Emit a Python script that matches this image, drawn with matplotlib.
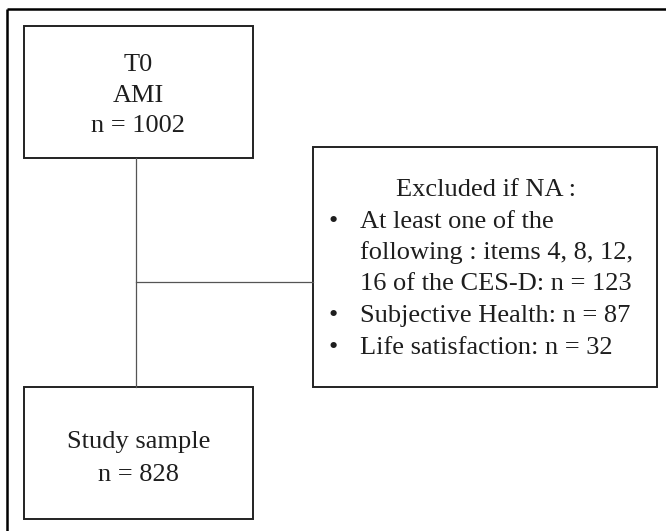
import matplotlib
matplotlib.use('Agg')
import matplotlib.pyplot as plt
from matplotlib.patches import Rectangle

# texts of the flow chart
top_lines = ["T0", "AMI", "n = 1002"]
bottom_lines = ["Study sample", "n = 828"]
excl_title = "Excluded if NA :"
excl_lines = ["At least one of the", "following : items 4, 8, 12,",
              "16 of the CES-D: n = 123", "Subjective Health: n = 87",
              "Life satisfaction: n = 32"]
excl_bullet = [True, False, False, True, True]

W, H = 666, 531
fig = plt.figure(figsize=(W / 100, H / 100), dpi=100)
ax = fig.add_axes([0, 0, 1, 1])
ax.set_xlim(0, W)
ax.set_ylim(H, 0)
ax.axis('off')

plt.rcParams['font.family'] = ['Liberation Serif', 'DejaVu Serif']
fs = 19
tc = '#1e1e1e'
ec = '#222222'

# outer frame (only top and left edges are inside the picture)
ax.plot([7, W], [9, 9], color='black', lw=1.8, solid_capstyle='butt')
ax.plot([7, 7], [9, H], color='black', lw=1.8, solid_capstyle='butt')

# boxes
for x0, y0, x1, y1 in [(24, 26, 253, 158), (24, 387, 253, 519), (313, 147, 657, 387)]:
    ax.add_patch(Rectangle((x0, y0), x1 - x0, y1 - y0, fill=False, ec=ec, lw=1.4))

# connectors
ax.plot([136, 136], [158, 387], color='#555555', lw=0.9)
ax.plot([136, 313], [282, 282], color='#555555', lw=0.9)

for i, s in enumerate(top_lines):
    ax.text(138, 71 + i * 30.5, s, ha='center', va='baseline', fontsize=fs, color=tc)
for i, s in enumerate(bottom_lines):
    ax.text(139, 448 + i * 33, s, ha='center', va='baseline', fontsize=fs, color=tc)

# exclusion box, bullet list
lead = 31.5
ax.text(486, 196, excl_title, ha='center', va='baseline', fontsize=fs, color=tc)
for i, (s, b) in enumerate(zip(excl_lines, excl_bullet)):
    y = 196 + (i + 1) * lead
    if b:
        ax.text(333, y, "\u2022", ha='center', va='baseline', fontsize=fs, color=tc)
    ax.text(360, y, s, ha='left', va='baseline', fontsize=fs, color=tc)

fig.savefig('out.png', dpi=100, facecolor='white')
